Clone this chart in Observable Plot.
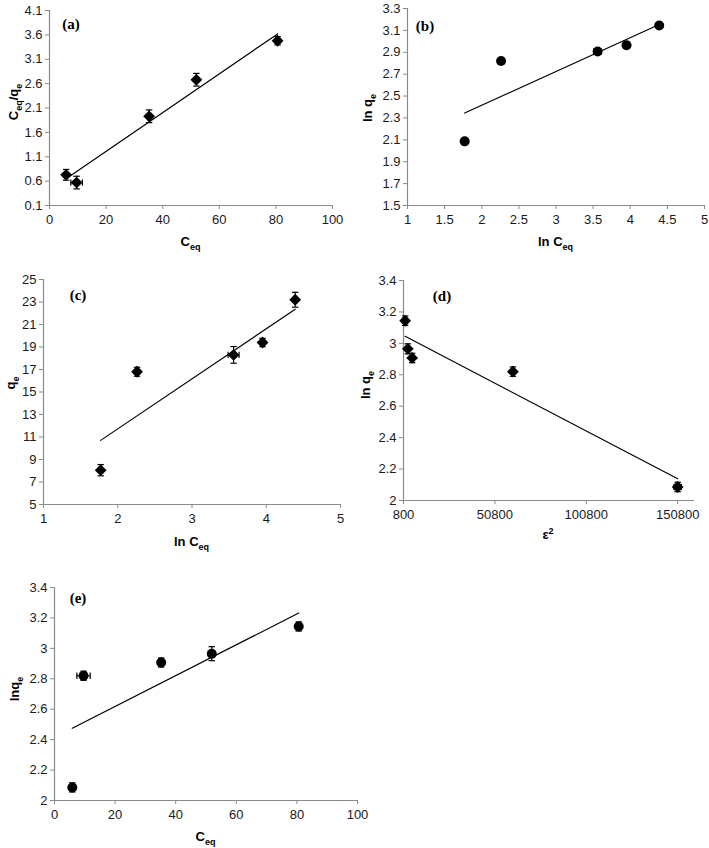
<!DOCTYPE html>
<html><head><meta charset="utf-8">
<script src="https://cdn.jsdelivr.net/npm/d3@7"></script>
<script src="https://cdn.jsdelivr.net/npm/@observablehq/plot@0.6"></script>
<style>
body{margin:0;background:#fff}
#root{position:relative;width:709px;height:848px;overflow:hidden;background:#fff}
.panel{position:absolute}
</style>
</head><body><div id="root"></div>
<script>
// ---------- data ----------
const ceq       = [5.87, 9.58, 35.2, 51.9, 80.6];
const lnCeq     = [1.77, 2.26, 3.56, 3.95, 4.39];
const qe        = [8.05, 16.8, 18.3, 19.4, 23.2];
const lnQe      = [2.086, 2.82, 2.907, 2.965, 3.144];
const ceqOverQe = [0.73, 0.57, 1.93, 2.68, 3.48];
const eps2      = [150800, 60660, 5545, 3170, 1700];

// error bars (per point)
const errAy = [0.11, 0.13, 0.13, 0.13, 0.085];
const errAx = [0, 2.05, 0, 0, 0];
const errBy = [0.02, 0.02, 0.02, 0.03, 0.02];
const errBx = [0, 0, 0.05, 0, 0];
const errCy = [0.5, 0.4, 0.74, 0.37, 0.66];
const errCx = [0, 0, 0.074, 0, 0];
const errDy = [0.03, 0.03, 0.03, 0.032, 0.03];
const errDx = [2000, 0, 0, 0, 0];
const errEy = [0.03, 0.03, 0.03, 0.046, 0.03];
const errEx = [0, 2.2, 0, 0, 0];

// linear fit end points
const fitAx = [5.87, 80.6],   fitAy = [0.65, 3.62];
const fitBx = [1.77, 4.39],   fitBy = [2.345, 3.154];
const fitCx = [1.77, 4.39],   fitCy = [10.7, 22.35];
const fitDx = [1700, 150800], fitDy = [3.045, 2.138];
const fitEx = [5.87, 80.6],   fitEy = [2.475, 3.232];

// ticks
const ticksAx = [0, 20, 40, 60, 80, 100];
const ticksAy = [0.1, 0.6, 1.1, 1.6, 2.1, 2.6, 3.1, 3.6, 4.1];
const ticksBx = [1, 1.5, 2, 2.5, 3, 3.5, 4, 4.5, 5];
const ticksBy = [1.5, 1.7, 1.9, 2.1, 2.3, 2.5, 2.7, 2.9, 3.1, 3.3];
const ticksCx = [1, 2, 3, 4, 5];
const ticksCy = [5, 7, 9, 11, 13, 15, 17, 19, 21, 23, 25];
const ticksDx = [800, 50800, 100800, 150800];
const ticksDy = [2, 2.2, 2.4, 2.6, 2.8, 3, 3.2, 3.4];
const ticksEx = [0, 20, 40, 60, 80, 100];
const ticksEy = [2, 2.2, 2.4, 2.6, 2.8, 3, 3.2, 3.4];

// ---------- helpers ----------
const AXIS = "#8a8a8a";
const FONT = "'Liberation Sans', Arial, sans-serif";
const diamond = {draw(ctx){ const s = 5.9; ctx.moveTo(0,-s); ctx.lineTo(s,0); ctx.lineTo(0,s); ctx.lineTo(-s,0); ctx.closePath(); }};
const capH = {draw(ctx){ const r = 3.2; ctx.moveTo(-r,0); ctx.lineTo(r,0); }};
const capV = {draw(ctx){ const r = 3.2; ctx.moveTo(0,-r); ctx.lineTo(0,r); }};
const fmt = d3.format("~g");

function panel(o) {
  const pts = o.x.map((x, i) => ({x, y: o.y[i], ex: o.ex[i], ey: o.ey[i]}));
  const vy = pts.filter(d => d.ey > 0), vx = pts.filter(d => d.ex > 0);
  const fit = o.fitX.map((x, i) => ({x, y: o.fitY[i]}));
  const svg = Plot.plot({
    width: o.width, height: o.height,
    marginLeft: o.m[3], marginRight: o.m[1], marginTop: o.m[0], marginBottom: o.m[2],
    style: {fontFamily: FONT, fontSize: "13px", color: "#000", background: "transparent", overflow: "visible"},
    x: {domain: o.xDomain, label: null},
    y: {domain: o.yDomain, label: null},
    marks: [
      Plot.axisX({ticks: o.xTicks, tickFormat: fmt, tickSize: 4, tickPadding: 5, stroke: AXIS, fill: "#1a1a1a", fontSize: 13, fontFamily: FONT, label: null}),
      Plot.axisY({ticks: o.yTicks, tickFormat: fmt, tickSize: 4, tickPadding: 3, stroke: AXIS, fill: "#1a1a1a", fontSize: 13, fontFamily: FONT, label: null}),
      Plot.ruleY([o.yDomain[0]], {stroke: AXIS, strokeWidth: 1.2}),
      Plot.ruleX([o.xDomain[0]], {stroke: AXIS, strokeWidth: 1.2}),
      Plot.line(fit, {x: "x", y: "y", stroke: "#000", strokeWidth: 1.2}),
      Plot.ruleX(vy, {x: "x", y1: d => d.y - d.ey, y2: d => d.y + d.ey, stroke: "#000", strokeWidth: 1.2}),
      Plot.dot(vy, {x: "x", y: d => d.y - d.ey, symbol: capH, stroke: "#000", strokeWidth: 1.2, fill: "none"}),
      Plot.dot(vy, {x: "x", y: d => d.y + d.ey, symbol: capH, stroke: "#000", strokeWidth: 1.2, fill: "none"}),
      Plot.ruleY(vx, {y: "y", x1: d => d.x - d.ex, x2: d => d.x + d.ex, stroke: "#000", strokeWidth: 1.2}),
      Plot.dot(vx, {y: "y", x: d => d.x - d.ex, symbol: capV, stroke: "#000", strokeWidth: 1.2, fill: "none"}),
      Plot.dot(vx, {y: "y", x: d => d.x + d.ex, symbol: capV, stroke: "#000", strokeWidth: 1.2, fill: "none"}),
      Plot.dot(pts, {x: "x", y: "y", symbol: o.round ? "circle" : diamond, r: 5, fill: "#000", stroke: "none"})
    ]
  });
  svg.classList.add("panel");
  svg.style.left = o.left + "px";
  svg.style.top = o.top + "px";
  const s = d3.select(svg);
  addRich(s, o.xTitle, o.xt[0], o.xt[1], false, `bold 13px ${FONT}`);
  addRich(s, o.yTitle, o.yt[0], o.yt[1], true, `bold 13px ${FONT}`);
  s.append("text").attr("x", o.tag[0]).attr("y", o.tag[1]).attr("text-anchor", "middle")
    .style("font", "bold 15px 'Liberation Serif', 'Times New Roman', serif").attr("fill", "#000").text(o.tagText);
  document.getElementById("root").appendChild(svg);
}

// parts: [text, mode] where mode: 0 normal, 1 subscript, 2 superscript
function addRich(s, parts, x, y, rotate, font) {
  const t = s.append("text").attr("text-anchor", "middle").style("font", font).attr("fill", "#000");
  if (rotate) t.attr("transform", `translate(${x},${y}) rotate(-90)`);
  else t.attr("transform", `translate(${x},${y})`);
  let shift = 0;
  for (const [txt, mode] of parts) {
    const target = mode === 1 ? 3.5 : mode === 2 ? -5 : 0;
    const sp = t.append("tspan").attr("dy", target - shift).text(txt);
    if (mode) sp.style("font-size", "9px");
    shift = target;
  }
}

// ---------- panels ----------
panel({x: ceq, y: ceqOverQe, ex: errAx, ey: errAy, fitX: fitAx, fitY: fitAy,
  xDomain: [0, 100], yDomain: [0.1, 4.1], xTicks: ticksAx, yTicks: ticksAy,
  left: 0, top: 0, width: 350, height: 255, m: [10, 18, 50, 49],
  xTitle: [["C",0],["eq",1]], xt: [190.5, 246],
  yTitle: [["C",0],["eq",1],["/q",0],["e",1]], yt: [18, 102],
  tagText: "(a)", tag: [71, 29]});

panel({x: lnCeq, y: lnQe, ex: errBx, ey: errBy, fitX: fitBx, fitY: fitBy, round: true,
  xDomain: [1, 5], yDomain: [1.5, 3.3], xTicks: ticksBx, yTicks: ticksBy,
  left: 350, top: 0, width: 359, height: 255, m: [8, 5, 50, 57],
  xTitle: [["ln C",0],["eq",1]], xt: [205.5, 246],
  yTitle: [["ln q",0],["e",1]], yt: [22, 108],
  tagText: "(b)", tag: [75, 31]});

panel({x: lnCeq, y: qe, ex: errCx, ey: errCy, fitX: fitCx, fitY: fitCy,
  xDomain: [1, 5], yDomain: [5, 25], xTicks: ticksCx, yTicks: ticksCy,
  left: 0, top: 270, width: 350, height: 285, m: [9, 10, 51, 43],
  xTitle: [["ln C",0],["eq",1]], xt: [191.5, 276],
  yTitle: [["q",0],["e",1]], yt: [15, 113],
  tagText: "(c)", tag: [78, 30]});

panel({x: eps2, y: lnQe, ex: errDx, ey: errDy, fitX: fitDx, fitY: fitDy,
  xDomain: [800, 160000], yDomain: [2, 3.4], xTicks: ticksDx, yTicks: ticksDy,
  left: 350, top: 270, width: 359, height: 285, m: [10, 15, 55, 53],
  xTitle: [["ε",0],["2",2]], xt: [198, 269],
  yTitle: [["ln q",0],["e",1]], yt: [20, 115],
  tagText: "(d)", tag: [92, 31]});

panel({x: ceq, y: lnQe, ex: errEx, ey: errEy, fitX: fitEx, fitY: fitEy, round: true,
  xDomain: [0, 100], yDomain: [2, 3.4], xTicks: ticksEx, yTicks: ticksEy,
  left: 0, top: 575, width: 360, height: 273, m: [12, 3, 48, 54],
  xTitle: [["C",0],["eq",1]], xt: [205.5, 266],
  yTitle: [["lnq",0],["e",1]], yt: [19, 114],
  tagText: "(e)", tag: [78, 28]});
</script>
</body></html>
